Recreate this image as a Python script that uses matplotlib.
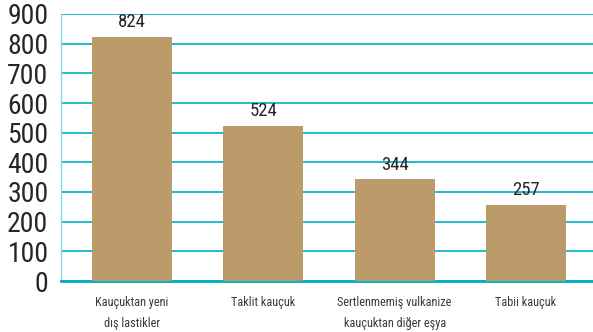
import matplotlib
matplotlib.use('Agg')
import matplotlib.pyplot as plt

kategoriler = ['Kauçuktan yeni\ndış lastikler', 'Taklit kauçuk',
               'Sertlenmemiş vulkanize\nkauçuktan diğer eşya', 'Tabii kauçuk']
degerler = [824, 524, 344, 257]
yticks = [0, 100, 200, 300, 400, 500, 600, 700, 800, 900]

plt.rcParams['font.family'] = ['Roboto Condensed', 'DejaVu Sans']

bar_renk = '#BC9B6A'
cizgi = '#00AEC6'

fig = plt.figure(figsize=(5.93, 3.32), dpi=100)
ax = fig.add_axes([61/593, 1-281/332, 532/593, 267/332])

x = range(len(degerler))
ax.bar(x, degerler, width=0.61, color=bar_renk, zorder=3)

for i, v in enumerate(degerler):
    ax.text(i, v + 18, str(v), ha='center', va='bottom', fontsize=13.5, color='#262626', zorder=4)

ax.set_ylim(0, 900)
ax.set_xlim(-0.54, 3.51)
ax.set_yticks(yticks)
ax.set_yticklabels([str(t) for t in yticks], fontsize=20, color='#262626')
ax.yaxis.grid(True, color=cizgi, linewidth=1.2, zorder=0)
ax.set_axisbelow(True)
ax.tick_params(axis='y', length=0, pad=9)
ax.set_xticks([])

for s in ['top', 'right']:
    ax.spines[s].set_visible(False)
ax.spines['left'].set_color('#8AD8E2')
ax.spines['left'].set_linewidth(1)
ax.spines['bottom'].set_color(cizgi)
ax.spines['bottom'].set_linewidth(2)

for i, k in enumerate(kategoriler):
    ax.text(i, -50, k, ha='center', va='top', fontsize=8.8, color='#3a3a3a',
            linespacing=1.8, clip_on=False)

fig.savefig('out.png', dpi=100)
